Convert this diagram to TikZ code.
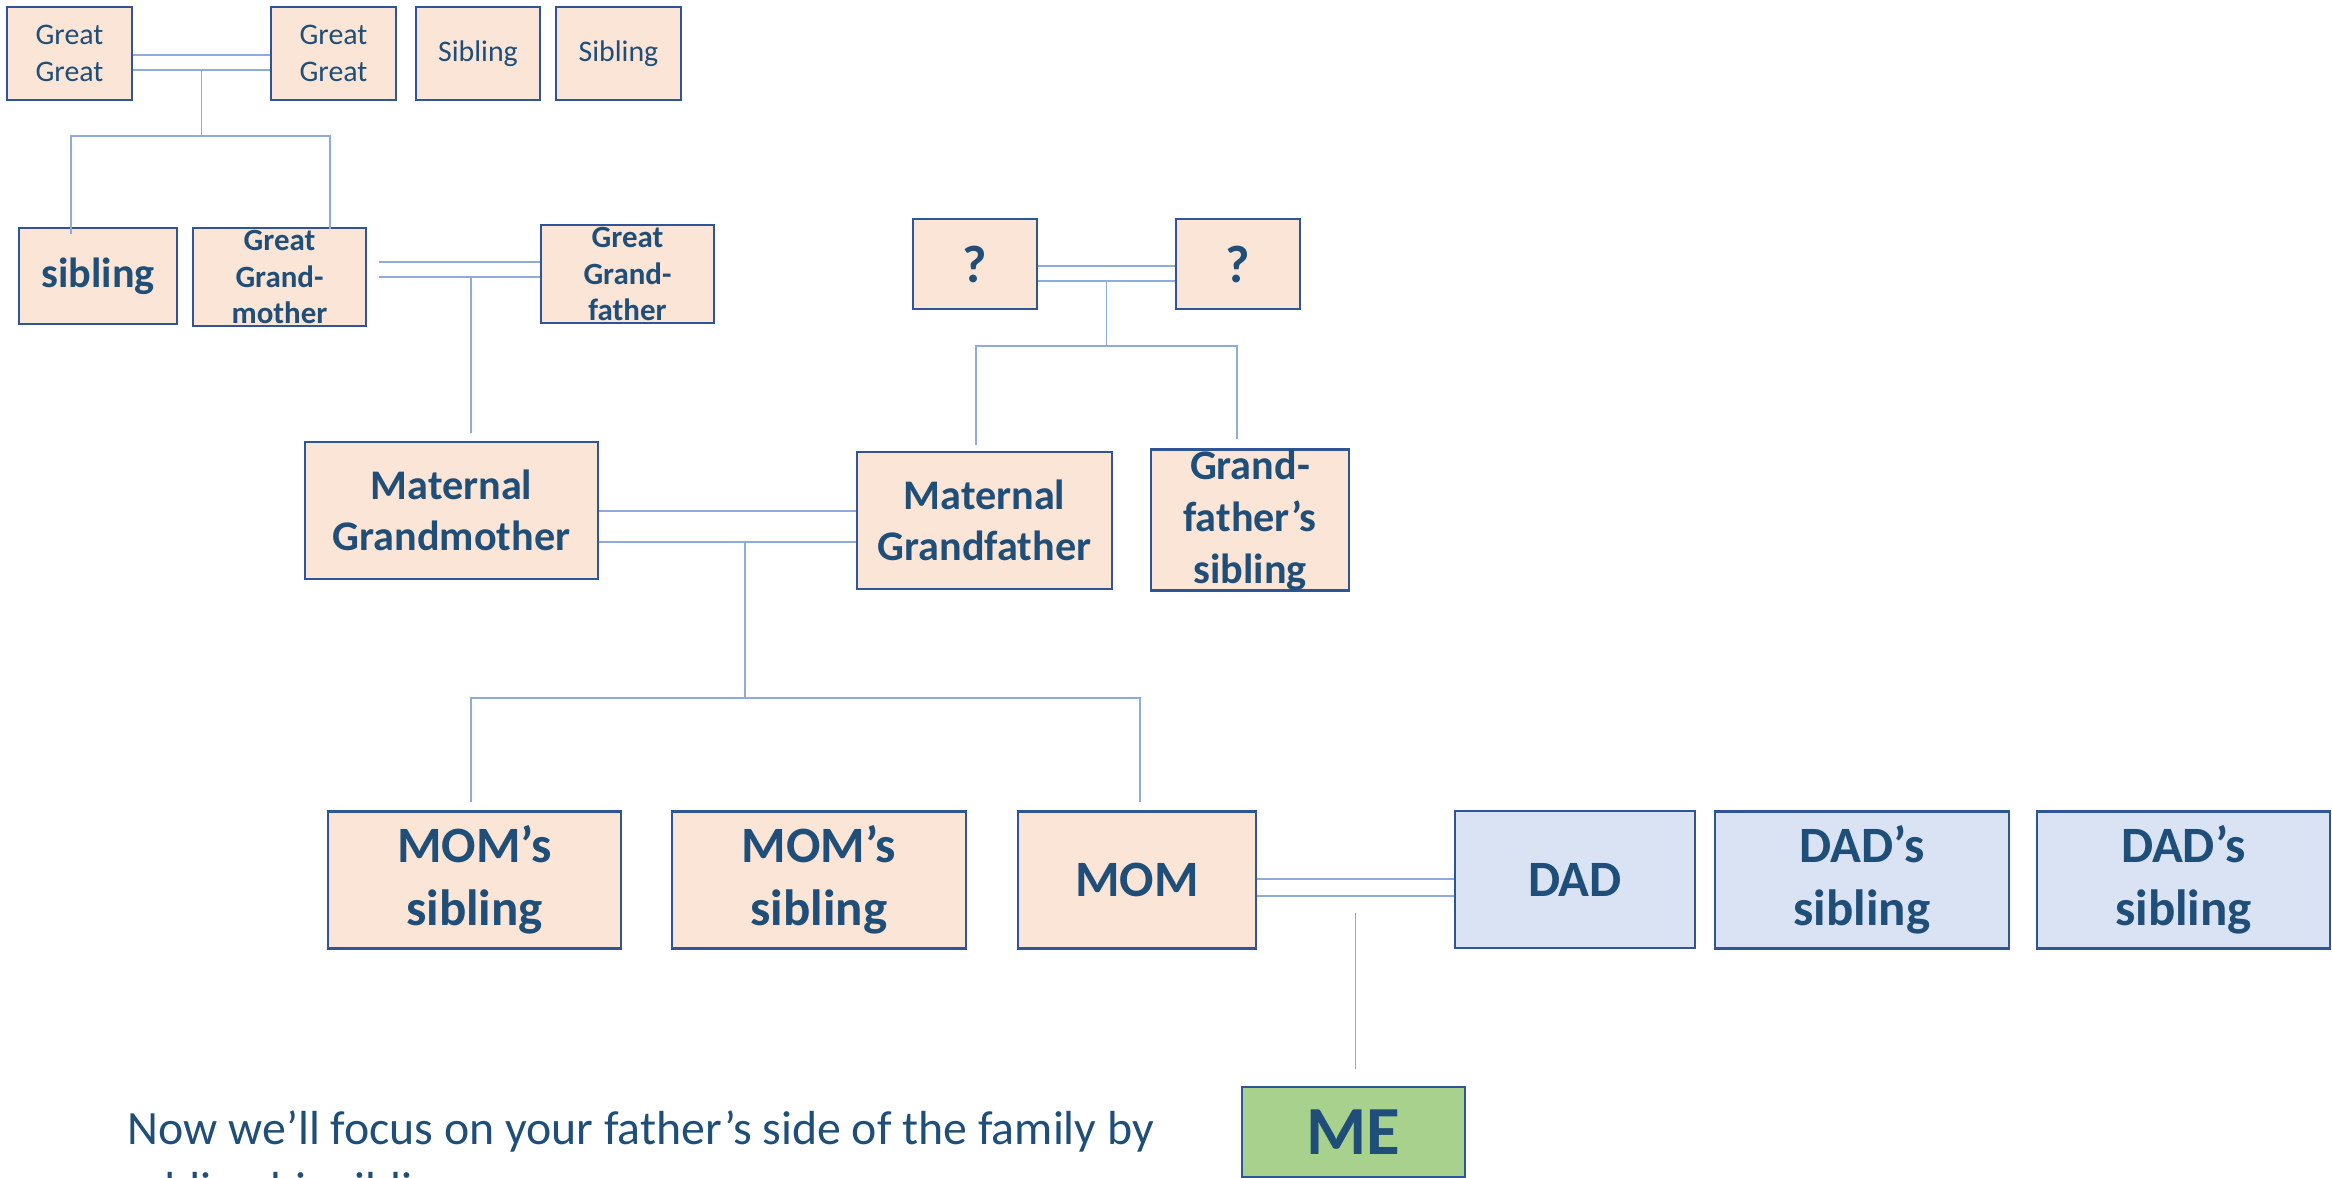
\documentclass[tikz,border=0pt]{standalone}
\usepackage{fontspec}
\setmainfont{Carlito}
\usepackage{tikz}
\usetikzlibrary{calc}

\definecolor{boxpeach}{HTML}{FBE5D6}
\definecolor{boxblue}{HTML}{DAE3F3}
\definecolor{boxgreen}{HTML}{A9D18E}
\definecolor{boxline}{HTML}{2F5597}
\definecolor{textblue}{HTML}{1F4E79}
\definecolor{linkblue}{HTML}{8FAADC}

\begin{document}
\begin{tikzpicture}[x=0.1mm, y=-0.1mm,
    person/.style={draw=boxline, line width=0.8pt, fill=boxpeach, text=textblue, align=center, inner sep=0pt},
    dadside/.style={person, fill=boxblue},
    mebox/.style={person, fill=boxgreen},
    link/.style={draw=linkblue, line width=0.55pt}]
    \useasboundingbox (0,0) rectangle (2332,1178);

    % Great great grandparents and their siblings
    \node[person, minimum width=12.5mm, minimum height=9.3mm, font=\fontsize{8.5}{10.5}\selectfont] (gga) at (69.5,53.5) {Great\\Great};
    \node[person, minimum width=12.5mm, minimum height=9.3mm, font=\fontsize{8.5}{10.5}\selectfont] (ggb) at (333.5,53.5) {Great\\Great};
    \node[person, minimum width=12.4mm, minimum height=9.3mm, font=\fontsize{8.5}{10.5}\selectfont] (ggs1) at (478,53.5) {Sibling};
    \node[person, minimum width=12.5mm, minimum height=9.3mm, font=\fontsize{8.5}{10.5}\selectfont] (ggs2) at (618.5,53.5) {Sibling};

    % Great grandparents
    \node[person, minimum width=15.8mm, minimum height=9.6mm, font=\bfseries\fontsize{12}{14.5}\selectfont] (gsib) at (98,276) {sibling};
    \node[person, minimum width=17.3mm, minimum height=9.8mm, font=\bfseries\fontsize{8.8}{10.5}\selectfont] (ggm) at (279.5,277) {Great\\Grand-\\mother};
    \node[person, minimum width=17.3mm, minimum height=9.8mm, font=\bfseries\fontsize{8.8}{10.5}\selectfont] (ggf) at (627.5,274) {Great\\Grand-\\father};
    \node[person, minimum width=12.4mm, minimum height=9mm, font=\bfseries\fontsize{15}{18}\selectfont] (q1) at (975,264) {?};
    \node[person, minimum width=12.4mm, minimum height=9mm, font=\bfseries\fontsize{15}{18}\selectfont] (q2) at (1238,264) {?};

    % Grandparents
    \node[person, minimum width=29.3mm, minimum height=13.7mm, font=\bfseries\fontsize{12}{14.5}\selectfont] (mgm) at (451.5,510.5) {Maternal\\Grandmother};
    \node[person, minimum width=25.5mm, minimum height=13.7mm, font=\bfseries\fontsize{12}{14.5}\selectfont] (mgf) at (984.5,520.5) {Maternal\\Grandfather};
    \node[person, minimum width=19.8mm, minimum height=13.8mm, font=\bfseries\fontsize{12}{14.8}\selectfont] (gfs) at (1250,520) {Grand-\\father’s\\sibling};

    % Parents and their siblings
    \node[person, minimum width=29.3mm, minimum height=13.7mm, font=\bfseries\fontsize{14.5}{18}\selectfont] (ms1) at (474.5,880) {MOM’s\\sibling};
    \node[person, minimum width=29.4mm, minimum height=13.7mm, font=\bfseries\fontsize{14.5}{18}\selectfont] (ms2) at (819,880) {MOM’s\\sibling};
    \node[person, minimum width=23.8mm, minimum height=13.7mm, font=\bfseries\fontsize{14.5}{18}\selectfont] (mom) at (1137,880) {MOM};
    \node[dadside, minimum width=24mm, minimum height=13.7mm, font=\bfseries\fontsize{14.5}{18}\selectfont] (dad) at (1575,879.5) {DAD};
    \node[dadside, minimum width=29.4mm, minimum height=13.7mm, font=\bfseries\fontsize{14.5}{18}\selectfont] (ds1) at (1862,880) {DAD’s\\sibling};
    \node[dadside, minimum width=29.3mm, minimum height=13.7mm, font=\bfseries\fontsize{14.5}{18}\selectfont] (ds2) at (2183.5,880) {DAD’s\\sibling};

    % Me
    \node[mebox, minimum width=22.3mm, minimum height=9mm, font=\bfseries\fontsize{19.6}{23}\selectfont] (me) at (1353.5,1132) {ME};

    % Note at the bottom
    \node[anchor=base west, inner sep=0pt, text=textblue, font=\fontsize{13.6}{17.4}\selectfont] (note1) at (127,1145) {Now we’ll focus on your father’s side of the family by};
    \node[anchor=base west, inner sep=0pt, text=textblue, font=\fontsize{13.6}{17.4}\selectfont] (note2) at (127,1206) {adding his siblings.};

    % Great great grandparents to their children
    \draw[link] ($(gga.east)+(0,1.5)$) coordinate (gg1) -- (gg1 -| ggb.west);
    \draw[link] ($(gga.east)+(0,16.5)$) coordinate (gg2) -- (gg2 -| ggb.west);
    \coordinate (gg3) at ($(gg2)!0.5!(gg2 -| ggb.west)$);
    \draw[link] (gg3) -- ++(0,66) coordinate (gg4);
    \coordinate (gg5) at ($(gsib.north)+(-27,7)$);
    \coordinate (gg6) at ($(ggm.north)+(50.5,2)$);
    \draw[link] (gg5) -- (gg5 |- gg4) -- (gg6 |- gg4) -- (gg6);

    % Great grandparents to grandmother
    \draw[link] ($(ggf.west)+(0,-12)$) coordinate (gp1) -- ($(gp1 -| ggm.east)+(12,0)$);
    \draw[link] ($(ggf.west)+(0,3)$) coordinate (gp2) -- ($(gp2 -| ggm.east)+(12,0)$);
    \coordinate (gp3) at ($(mgm.north)+(19.5,-8)$);
    \draw[link] (gp3 |- gp2) -- (gp3);

    % Unknown couple to grandfather and his sibling
    \draw[link] ($(q1.east)+(0,2)$) coordinate (qq1) -- (qq1 -| q2.west);
    \draw[link] ($(q1.east)+(0,17)$) coordinate (qq2) -- (qq2 -| q2.west);
    \coordinate (qq3) at ($(qq2)!0.5!(qq2 -| q2.west)$);
    \draw[link] (qq3) -- ++(0,65) coordinate (qq4);
    \coordinate (qq5) at ($(mgf.north)+(-8.5,-6)$);
    \coordinate (qq6) at ($(gfs.north)+(-13,-9)$);
    \draw[link] (qq5) -- (qq5 |- qq4) -- (qq6 |- qq4) -- (qq6);

    % Grandparents to mom and her siblings
    \draw[link] ($(mgm.east)+(0,0.5)$) coordinate (mg1) -- (mg1 -| mgf.west);
    \draw[link] ($(mgm.east)+(0,31.5)$) coordinate (mg2) -- (mg2 -| mgf.west);
    \draw[link] ($(mg2)+(146,0)$) -- ++(0,156) coordinate (mg4);
    \coordinate (mg5) at ($(ms1.north)+(-3.5,-8)$);
    \coordinate (mg6) at ($(mom.north)+(3,-8)$);
    \draw[link] (mg5) -- (mg5 |- mg4) -- (mg6 |- mg4) -- (mg6);

    % Parents to me
    \draw[link] ($(mom.east)+(0,-1)$) coordinate (md1) -- (md1 -| dad.west);
    \draw[link] ($(mom.east)+(0,16)$) coordinate (md2) -- (md2 -| dad.west);
    \coordinate (md3) at ($(me.north)+(2,-17)$);
    \draw[link] (md3) -- ($(md3 |- md2)+(0,17)$);

\end{tikzpicture}
\end{document}
